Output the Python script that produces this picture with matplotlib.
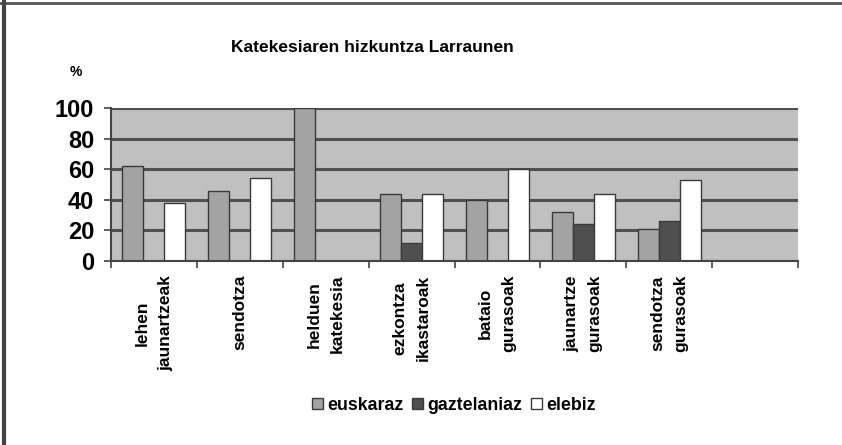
import matplotlib
matplotlib.use("Agg")
import matplotlib.pyplot as plt
import numpy as np
from matplotlib.lines import Line2D
from matplotlib.patches import Patch

plt.rcParams['font.family'] = ['Liberation Sans', 'DejaVu Sans']

title = "Katekesiaren hizkuntza Larraunen"
categories = ["lehen\njaunartzeak", "sendotza", "helduen\nkatekesia",
              "ezkontza\nikastaroak", "bataio\ngurasoak", "jaunartze\ngurasoak",
              "sendotza\ngurasoak", ""]
series_names = ["euskaraz", "gaztelaniaz", "elebiz"]
euskaraz = [62, 46, 100, 44, 40, 32, 21, 0]
gaztelaniaz = [0, 0, 0, 12, 0, 24, 26, 0]
elebiz = [38, 54, 0, 44, 60, 44, 53, 0]
yticks = [0, 20, 40, 60, 80, 100]

colors = ["#a3a3a3", "#4f4f4f", "#ffffff"]

fig = plt.figure(figsize=(8.42, 4.45), dpi=100)
ax = fig.add_axes([111/842, 1-261/445, 687/842, 153/445])
ax.set_facecolor("#c0c0c0")

x = np.arange(len(categories))
w = 0.245
for i, (vals, c) in enumerate(zip([euskaraz, gaztelaniaz, elebiz], colors)):
    ax.bar(x + (i-1)*w, vals, width=w, color=c, edgecolor="#3a3a3a",
           linewidth=1.0, zorder=3, label=series_names[i])

ax.set_xlim(-0.5, len(categories)-0.5)
ax.set_ylim(0, 100)
ax.set_yticks(yticks)
ax.set_yticklabels([str(v) for v in yticks], fontsize=17, fontweight='bold')
ax.yaxis.grid(True, color="#505050", linewidth=2.2, zorder=1)
ax.set_axisbelow(True)

ax.set_xticks(x)
ax.set_xticklabels(categories, rotation=90, fontsize=12.5, fontweight='bold',
                   va='top', ha='center', multialignment='center', linespacing=1.7)
ax.tick_params(axis='x', which='major', length=0, pad=10)
ax.set_xticks(np.arange(-0.5, len(categories)), minor=True)
ax.tick_params(axis='x', which='minor', length=5, width=1.2, color="#444444", direction='out')
ax.tick_params(axis='y', length=5, width=1.2, color="#444444", pad=7)

for s in ['top', 'right']:
    ax.spines[s].set_visible(False)
for s in ['left', 'bottom']:
    ax.spines[s].set_color("#444444")
    ax.spines[s].set_linewidth(1.5)
    ax.spines[s].set_zorder(4)

fig.text(372/842, 1-47/445, title, fontsize=12.5, fontweight='bold', ha='center', va='center')
fig.text(76/842, 1-72/445, "%", fontsize=10, fontweight='bold', ha='center', va='center')

handles = [Patch(facecolor=c, edgecolor="#3a3a3a", linewidth=1.0) for c in colors]
fig.legend(handles, series_names, loc='center', bbox_to_anchor=(454/842, 1-405/445),
           ncol=3, frameon=False, handlelength=0.6, handleheight=0.6,
           handletextpad=0.25, columnspacing=0.5,
           prop={'weight': 'bold', 'size': 12.8})

# frame lines at top and left
fig.add_artist(Line2D([0, 1], [1-2.5/445, 1-2.5/445], color="#555555", linewidth=2, transform=fig.transFigure))
fig.add_artist(Line2D([3.5/842, 3.5/842], [0, 1], color="#444444", linewidth=3, transform=fig.transFigure))

fig.savefig("out.png", dpi=100)
